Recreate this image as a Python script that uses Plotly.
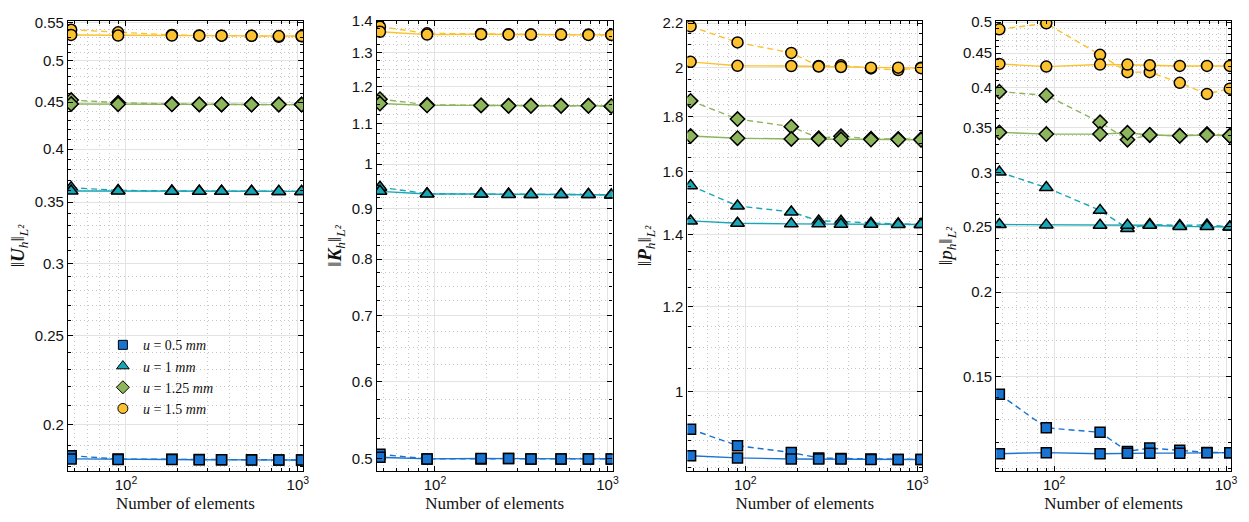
import numpy as np
import plotly.graph_objects as go

# ---------------- data ----------------
n_elements = [48, 90, 185, 267, 360, 538, 775, 1052]
series_names = ["<i>u</i> = 0.5 <i>mm</i>", "<i>u</i> = 1 <i>mm</i>",
                "<i>u</i> = 1.25 <i>mm</i>", "<i>u</i> = 1.5 <i>mm</i>"]

# panel 1: ||U_h||
U_solid = [
    [0.1835, 0.1832, 0.1832, 0.1831, 0.1831, 0.1830, 0.1830, 0.1830],
    [0.3600, 0.3600, 0.3598, 0.3597, 0.3597, 0.3596, 0.3596, 0.3596],
    [0.4480, 0.4478, 0.4476, 0.4475, 0.4475, 0.4474, 0.4474, 0.4474],
    [0.5330, 0.5322, 0.5322, 0.5320, 0.5320, 0.5318, 0.5315, 0.5315],
]
U_dashed = [
    [0.1850, 0.1834, 0.1833, 0.1832, 0.1831, 0.1831, 0.1830, 0.1830],
    [0.3630, 0.3605, 0.3600, 0.3598, 0.3597, 0.3597, 0.3596, 0.3596],
    [0.4525, 0.4495, 0.4480, 0.4476, 0.4475, 0.4474, 0.4474, 0.4474],
    [0.5400, 0.5365, 0.5330, 0.5322, 0.5320, 0.5318, 0.5305, 0.5312],
]
# panel 2: ||K_h||
K_solid = [
    [0.502, 0.500, 0.5005, 0.5005, 0.500, 0.500, 0.500, 0.500],
    [0.938, 0.932, 0.932, 0.931, 0.931, 0.931, 0.931, 0.930],
    [1.153, 1.148, 1.148, 1.147, 1.147, 1.147, 1.147, 1.146],
    [1.365, 1.356, 1.357, 1.356, 1.356, 1.356, 1.355, 1.355],
]
K_dashed = [
    [0.5055, 0.500, 0.500, 0.5005, 0.500, 0.500, 0.500, 0.500],
    [0.947, 0.933, 0.932, 0.932, 0.931, 0.931, 0.931, 0.930],
    [1.165, 1.150, 1.148, 1.147, 1.147, 1.147, 1.147, 1.146],
    [1.3815, 1.360, 1.358, 1.357, 1.356, 1.356, 1.356, 1.355],
]
# panel 3: ||P_h||
P_solid = [
    [0.872, 0.868, 0.866, 0.866, 0.866, 0.865, 0.865, 0.865],
    [1.441, 1.434, 1.432, 1.432, 1.431, 1.431, 1.430, 1.430],
    [1.728, 1.720, 1.717, 1.717, 1.716, 1.715, 1.715, 1.714],
    [2.025, 2.008, 2.007, 2.005, 2.003, 2.000, 2.000, 1.998],
]
P_dashed = [
    [0.923, 0.891, 0.878, 0.868, 0.867, 0.866, 0.865, 0.865],
    [1.554, 1.488, 1.469, 1.441, 1.440, 1.434, 1.432, 1.430],
    [1.863, 1.792, 1.763, 1.720, 1.727, 1.718, 1.717, 1.716],
    [2.185, 2.111, 2.064, 2.007, 2.010, 1.997, 1.990, 2.000],
]
# panel 4: ||p_h||
p_solid = [
    [0.1156, 0.1160, 0.1156, 0.1158, 0.1158, 0.1158, 0.1160, 0.1160],
    [0.2516, 0.2513, 0.2510, 0.2510, 0.2510, 0.2500, 0.2500, 0.2495],
    [0.3440, 0.3420, 0.3420, 0.3435, 0.3410, 0.3400, 0.3410, 0.3400],
    [0.4340, 0.4300, 0.4330, 0.4330, 0.4320, 0.4310, 0.4310, 0.4310],
]
p_dashed = [
    [0.1414, 0.1262, 0.1243, 0.1165, 0.1178, 0.1170, 0.1161, 0.1160],
    [0.3006, 0.2852, 0.2640, 0.2483, 0.2516, 0.2508, 0.2513, 0.2495],
    [0.3950, 0.3900, 0.3560, 0.3355, 0.3410, 0.3400, 0.3420, 0.3400],
    [0.4880, 0.4980, 0.4475, 0.4220, 0.4220, 0.4070, 0.3920, 0.3990],
]

y_titles = [
    "‖<b><i>U</i></b><sub><i>h</i></sub>‖<sub><i>L²</i></sub>",
    "‖<b><i>K</i></b><sub><i>h</i></sub>‖<sub><i>L²</i></sub>",
    "‖<b><i>P</i></b><sub><i>h</i></sub>‖<sub><i>L²</i></sub>",
    "‖<i>p<sub>h</sub></i>‖<sub><i>L²</i></sub>",
]
y_ranges = [[0.178, 0.552], [0.486, 1.40], [0.844, 2.21], [0.109, 0.502]]
y_major = [
    [0.2, 0.25, 0.3, 0.35, 0.4, 0.45, 0.5, 0.55],
    [0.5, 0.6, 0.7, 0.8, 0.9, 1.0, 1.1, 1.2, 1.3, 1.4],
    [1.0, 1.2, 1.4, 1.6, 1.8, 2.0, 2.2],
    [0.15, 0.2, 0.25, 0.3, 0.35, 0.4, 0.45, 0.5],
]
y_major_text = [
    ["0.2", "0.25", "0.3", "0.35", "0.4", "0.45", "0.5", "0.55"],
    ["0.5", "0.6", "0.7", "0.8", "0.9", "1", "1.1", "1.2", "1.3", "1.4"],
    ["1", "1.2", "1.4", "1.6", "1.8", "2", "2.2"],
    ["0.15", "0.2", "0.25", "0.3", "0.35", "0.4", "0.45", "0.5"],
]
y_minor_step = [0.01, 0.025, 0.05, 0.01]

x_major = [100, 1000]
x_major_text = ["10<sup>2</sup>", "10<sup>3</sup>"]
x_minor = [50, 60, 70, 80, 90, 200, 300, 400, 500, 600, 700, 800, 900]

colors = ["#1874d2", "#19a6b6", "#8cb55c", "#fcc12e"]
symbols = ["square", "triangle-up", "diamond", "circle"]
msizes = [10, 12, 11, 11]

domains = [[0.0, 0.2019], [0.2655, 0.4682], [0.5326, 0.7345], [0.7981, 1.0]]

panels = [(U_solid, U_dashed), (K_solid, K_dashed), (P_solid, P_dashed), (p_solid, p_dashed)]

fig = go.Figure()
serif = "Liberation Serif, DejaVu Serif, serif"
sans = "Liberation Sans, Arial, sans-serif"

for pi, (sol, das) in enumerate(panels):
    xa = "x" if pi == 0 else f"x{pi+1}"
    ya = "y" if pi == 0 else f"y{pi+1}"
    for si in range(4):
        for vals, dash in ((das[si], "6px,4px"), (sol[si], "solid")):
            fig.add_trace(go.Scatter(
                x=n_elements, y=vals, xaxis=xa, yaxis=ya,
                mode="lines+markers", showlegend=False,
                line=dict(color=colors[si], width=1.4, dash=dash),
                marker=dict(symbol=symbols[si], size=msizes[si], color=colors[si],
                            line=dict(color="black", width=1.5)),
            ))

# legend-only entries (markers only)
for si in range(4):
    fig.add_trace(go.Scatter(
        x=[None], y=[None], mode="markers", name=series_names[si],
        marker=dict(symbol=symbols[si], size=msizes[si] - 1, color=colors[si],
                    line=dict(color="black", width=1)),
    ))

axis_common = dict(
    showline=True, linecolor="black", linewidth=1.2, mirror="allticks",
    ticks="inside", ticklen=5, tickcolor="black", tickwidth=1,
    showgrid=True, gridcolor="#e3e3e3", gridwidth=1, zeroline=False,
    tickfont=dict(family=sans, size=15, color="#111111"),
)

layout = dict(
    width=1249, height=522,
    margin=dict(l=68, r=17, t=15, b=50),
    paper_bgcolor="white", plot_bgcolor="white",
    legend=dict(x=0.030, y=0.315, xanchor="left", yanchor="top",
                bgcolor="rgba(0,0,0,0)", font=dict(family=serif, size=14, color="#111111"),
                tracegroupgap=0, itemwidth=30),
)

for pi in range(4):
    xk = "xaxis" if pi == 0 else f"xaxis{pi+1}"
    yk = "yaxis" if pi == 0 else f"yaxis{pi+1}"
    xa_anchor = "y" if pi == 0 else f"y{pi+1}"
    ya_anchor = "x" if pi == 0 else f"x{pi+1}"
    lo, hi = y_ranges[pi]
    step = y_minor_step[pi]
    yminor = [round(v, 4) for v in np.arange(np.ceil(lo / step) * step, hi + 1e-9, step)
              if not any(abs(v - m) < 1e-6 for m in y_major[pi])]
    layout[xk] = dict(
        axis_common, type="log", domain=domains[pi], anchor=xa_anchor,
        range=[np.log10(46), np.log10(1069)],
        tickmode="array", tickvals=x_major, ticktext=x_major_text,
        minor=dict(tickmode="array", tickvals=x_minor, ticks="inside", ticklen=3,
                   tickcolor="black", showgrid=True, gridcolor="#c8c8c8",
                   griddash="1px,3px", gridwidth=1),
        title=dict(text="Number of elements", font=dict(family=serif, size=17, color="#111111"),
                   standoff=5),
    )
    layout[yk] = dict(
        axis_common, type="log", domain=[0, 1], anchor=ya_anchor,
        range=[np.log10(lo), np.log10(hi)],
        tickmode="array", tickvals=y_major[pi], ticktext=y_major_text[pi],
        minor=dict(tickmode="array", tickvals=yminor, ticks="inside", ticklen=3,
                   tickcolor="black", showgrid=True, gridcolor="#c8c8c8",
                   griddash="1px,3px", gridwidth=1),
        title=dict(text=y_titles[pi], font=dict(family=serif, size=19, color="#111111"),
                   standoff=5),
    )

fig.update_layout(**layout)
fig.write_html("out.html")
